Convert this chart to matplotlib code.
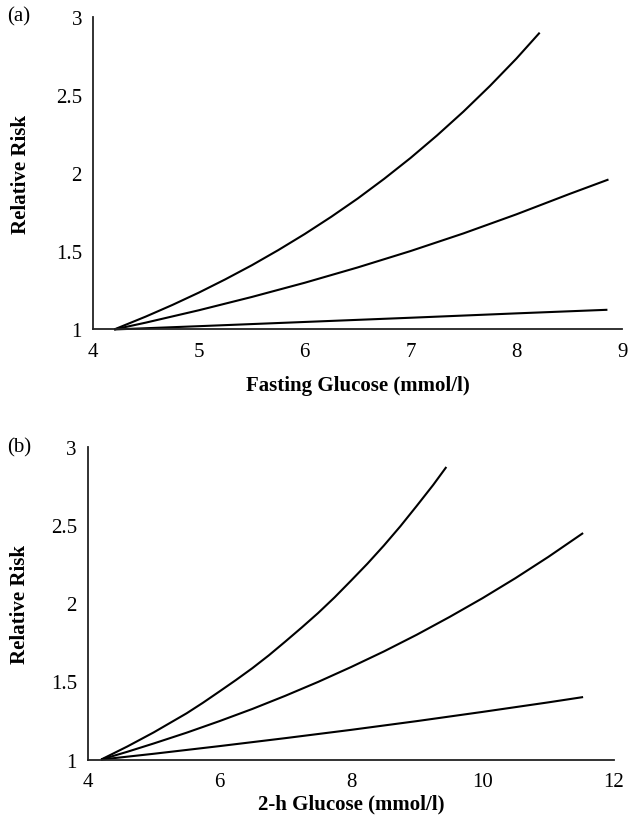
import matplotlib

matplotlib.use("Agg")
import matplotlib.pyplot as plt

plt.rcParams["font.family"] = ["Liberation Serif", "DejaVu Serif"]

# panel (a): fasting glucose, three relative-risk curves
fasting_x_top = [4.2, 4.5, 4.75, 5.0, 5.25, 5.5, 5.75, 6.0, 6.25, 6.5, 6.75, 7.0, 7.25, 7.5, 7.75, 8.0, 8.22]
fasting_rr_top = [1.0, 1.083, 1.157, 1.236, 1.321, 1.411, 1.508, 1.611, 1.721, 1.838,
                  1.964, 2.098, 2.242, 2.395, 2.559, 2.734, 2.90]
fasting_x_mid = [4.2, 4.5, 5.0, 5.5, 6.0, 6.5, 7.0, 7.5, 8.0, 8.5, 8.87]
fasting_rr_mid = [1.0, 1.044, 1.123, 1.208, 1.299, 1.397, 1.502, 1.615, 1.737, 1.867, 1.96]
fasting_x_low = [4.2, 5.0, 6.0, 7.0, 8.0, 8.86]
fasting_rr_low = [1.0, 1.021, 1.048, 1.075, 1.103, 1.126]

# panel (b): 2-h glucose
twoh_x_top = [4.2, 4.6, 5.0, 5.25, 5.5, 5.75, 6.0, 6.25, 6.5, 6.75, 7.0, 7.25, 7.5, 7.75,
              8.0, 8.25, 8.5, 8.75, 9.0, 9.25, 9.45]
twoh_rr_top = [1.0, 1.084, 1.174, 1.235, 1.296, 1.364, 1.436, 1.509, 1.585, 1.667, 1.755,
               1.845, 1.938, 2.038, 2.145, 2.254, 2.370, 2.493, 2.624, 2.758, 2.873]
twoh_x_mid = [4.2, 4.6, 5.0, 5.5, 6.0, 6.5, 7.0, 7.5, 8.0, 8.5, 9.0, 9.5, 10.0, 10.5, 11.0, 11.53]
twoh_rr_mid = [1.0, 1.050, 1.103, 1.172, 1.246, 1.324, 1.408, 1.497, 1.592, 1.692, 1.799,
               1.913, 2.033, 2.161, 2.297, 2.45]
twoh_x_low = [4.2, 5.0, 6.0, 7.0, 8.0, 9.0, 10.0, 11.0, 11.53]
twoh_rr_low = [1.0, 1.037, 1.086, 1.137, 1.190, 1.246, 1.305, 1.366, 1.40]

fasting_ticks = [4, 5, 6, 7, 8, 9]
twoh_ticks = [4, 6, 8, 10, 12]
rr_ticks = [1, 1.5, 2, 2.5, 3]
rr_labels = ["1", "1.5", "2", "2.5", "3"]


def _style(ax, xticks, xlim, xlabel, label_pad, ylabel_pad):
    for side in ("top", "right"):
        ax.spines[side].set_visible(False)
    for side in ("left", "bottom"):
        ax.spines[side].set_linewidth(1.3)
        ax.spines[side].set_color("#222222")
    ax.set_xlim(*xlim)
    ax.set_ylim(1, 3)
    ax.set_xticks(xticks)
    ax.set_xticklabels([str(t) for t in xticks])
    ax.set_yticks(rr_ticks)
    ax.set_yticklabels(rr_labels)
    ax.tick_params(length=0, labelsize=15, pad=8)
    ax.tick_params(axis="x", pad=9)
    ax.set_xlabel(xlabel, fontsize=15, fontweight="bold", labelpad=label_pad)
    ax.set_ylabel("Relative Risk", fontsize=15, fontweight="bold", labelpad=ylabel_pad)


fig = plt.figure(figsize=(6.33, 8.2), dpi=100)
ax_a = fig.add_axes([0.147, 0.597, 0.836, 0.381])
ax_b = fig.add_axes([0.139, 0.0725, 0.831, 0.381])

for xs, ys in [(fasting_x_top, fasting_rr_top), (fasting_x_mid, fasting_rr_mid), (fasting_x_low, fasting_rr_low)]:
    ax_a.plot(xs, ys, color="black", linewidth=1.5, solid_capstyle="butt", clip_on=False)
for xs, ys in [(twoh_x_top, twoh_rr_top), (twoh_x_mid, twoh_rr_mid), (twoh_x_low, twoh_rr_low)]:
    ax_b.plot(xs, ys, color="black", linewidth=1.5, solid_capstyle="butt", clip_on=False)

_style(ax_a, fasting_ticks, (4, 9), "Fasting Glucose (mmol/l)", 10, 18)
_style(ax_b, twoh_ticks, (4, 12), "2-h Glucose (mmol/l)", 2, 15)

fig.text(19 / 633, 1 - 17 / 820, "(a)", fontsize=15, ha="center", va="center")
fig.text(19 / 633, 1 - 448 / 820, "(b)", fontsize=15, ha="center", va="center")

fig.savefig("out.png", dpi=100)
